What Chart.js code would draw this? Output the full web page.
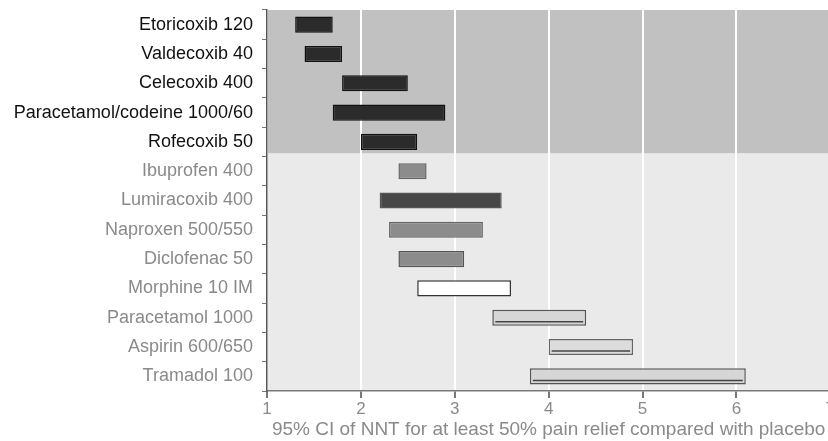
<!DOCTYPE html>
<html>
<head>
<meta charset="utf-8">
<script src="https://cdn.jsdelivr.net/npm/chart.js@4"></script>
<style>
  html, body { margin: 0; padding: 0; background: #fff; overflow: hidden; }
  #wrap { width: 836px; height: 441px; position: relative; }
</style>
</head>
<body>
<div id="wrap"><canvas id="nntChart"></canvas></div>
<script>
// Drugs, top to bottom
const drugs = [
  'Etoricoxib 120', 'Valdecoxib 40', 'Celecoxib 400', 'Paracetamol/codeine 1000/60',
  'Rofecoxib 50', 'Ibuprofen 400', 'Lumiracoxib 400', 'Naproxen 500/550',
  'Diclofenac 50', 'Morphine 10 IM', 'Paracetamol 1000', 'Aspirin 600/650', 'Tramadol 100'
];
// 95% CI of NNT, lower and upper bounds
const ciLow  = [1.3, 1.4, 1.8, 1.7, 2.0, 2.4, 2.2, 2.3, 2.4, 2.6, 3.4, 4.0, 3.8];
const ciHigh = [1.7, 1.8, 2.5, 2.9, 2.6, 2.7, 3.5, 3.3, 3.1, 3.6, 4.4, 4.9, 6.1];
const xTicks = [1, 2, 3, 4, 5, 6, 7];
const highlightCount = 5; // first rows sit on the darker band

const barFill = ['#2b2b2b', '#2b2b2b', '#2b2b2b', '#2b2b2b', '#2b2b2b',
  '#8c8c8c', '#474747', '#8c8c8c', '#8c8c8c', '#ffffff', '#d6d6d6', '#dcdcdc', '#d6d6d6'];
const barEdge = ['#111', '#111', '#111', '#111', '#111',
  '#666', '#555', '#666', '#555', '#333', '#555', '#666', '#555'];

// two background bands behind the grid
const bandPlugin = {
  id: 'bands',
  beforeDraw(chart) {
    const { ctx, chartArea: a, scales } = chart;
    const y = scales.y;
    const split = (y.getPixelForValue(highlightCount - 1) + y.getPixelForValue(highlightCount)) / 2 - 3;
    ctx.save();
    ctx.fillStyle = '#c1c1c1';
    ctx.fillRect(a.left, a.top, a.right - a.left, split - a.top);
    ctx.fillStyle = '#eaeaea';
    ctx.fillRect(a.left, split, a.right - a.left, a.bottom - split);
    ctx.restore();
  }
};

// thin dark stripe inside the light bars
const stripePlugin = {
  id: 'stripes',
  afterDatasetsDraw(chart) {
    const { ctx } = chart;
    const meta = chart.getDatasetMeta(0);
    ctx.save();
    ctx.strokeStyle = '#444';
    ctx.lineWidth = 1.5;
    [10, 11, 12].forEach(i => {
      const el = meta.data[i];
      const left = Math.min(el.x, el.base) + 3;
      const right = Math.max(el.x, el.base) - 3;
      const yy = el.y + el.height / 2 - 4;
      ctx.beginPath();
      ctx.moveTo(left, yy);
      ctx.lineTo(right, yy);
      ctx.stroke();
    });
    ctx.restore();
  }
};

new Chart(document.getElementById('nntChart'), {
  type: 'bar',
  data: {
    labels: drugs,
    datasets: [{
      data: drugs.map((d, i) => [ciLow[i], ciHigh[i]]),
      backgroundColor: barFill,
      borderColor: barEdge,
      borderWidth: 1.5,
      borderSkipped: false,
      categoryPercentage: 1,
      barPercentage: 0.55
    }]
  },
  options: {
    indexAxis: 'y',
    responsive: true,
    maintainAspectRatio: false,
    animation: false,
    layout: { padding: { top: 10, right: 5, left: 0, bottom: 0 } },
    plugins: {
      legend: { display: false },
      tooltip: { enabled: false }
    },
    scales: {
      x: {
        type: 'linear',
        min: 1,
        max: 7,
        afterBuildTicks(scale) {
          scale.ticks = xTicks.map(v => ({ value: v }));
        },
        afterFit(scale) { scale.height = 50; },
        grid: {
          color: '#ffffff',
          lineWidth: 2,
          tickColor: '#777',
          tickLength: 7
        },
        border: { color: '#7a7a7a', width: 1.5 },
        ticks: {
          color: '#8a8a8a',
          font: { family: 'Liberation Sans', size: 17 },
          padding: 1
        },
        title: {
          display: true,
          text: '95% CI of NNT for at least 50% pain relief compared with placebo',
          color: '#8a8a8a',
          font: { family: 'Liberation Sans', size: 19 },
          padding: { top: 0, bottom: 0 }
        }
      },
      y: {
        type: 'category',
        offset: true,
        afterFit(scale) {
          scale.width = 267;
          scale.paddingTop = 0;
          scale.paddingBottom = 0;
        },
        grid: {
          offset: true,
          drawOnChartArea: false,
          tickColor: '#777',
          tickLength: 5
        },
        border: { color: '#555', width: 1.5 },
        ticks: {
          color: ctx => ctx.index < highlightCount ? '#111' : '#8a8a8a',
          font: { family: 'Liberation Sans', size: 18 },
          padding: 9
        }
      }
    }
  },
  plugins: [bandPlugin, stripePlugin]
});
</script>
</body>
</html>
